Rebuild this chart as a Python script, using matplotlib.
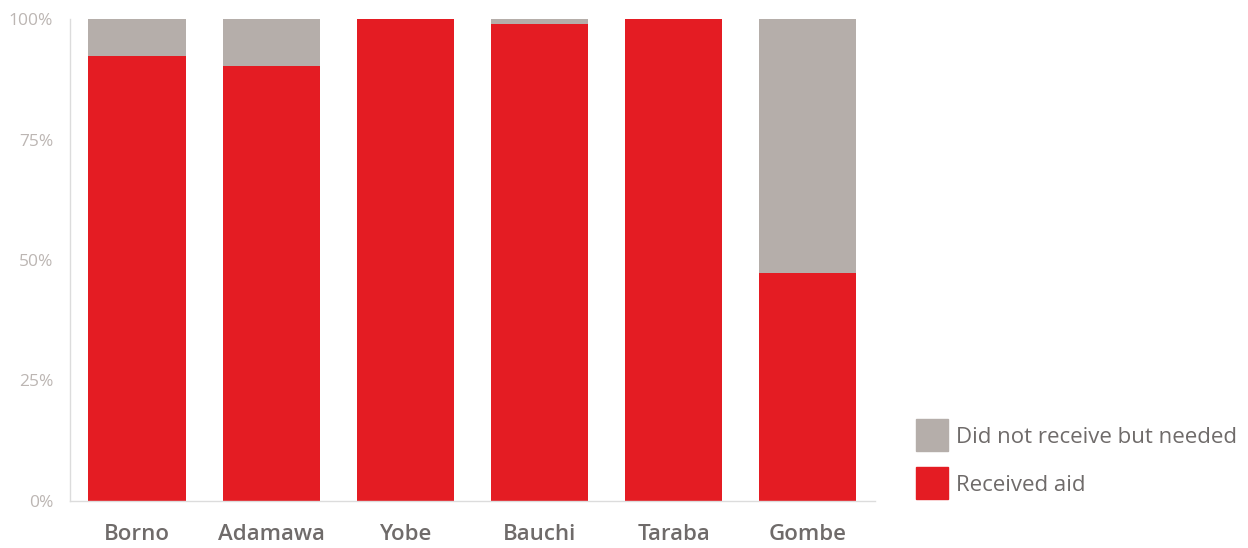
import matplotlib.pyplot as plt
from matplotlib.patches import Patch

states = ["Borno", "Adamawa", "Yobe", "Bauchi", "Taraba", "Gombe"]
received = [92.3, 90.2, 100.0, 99.0, 100.0, 47.3]
not_received = [100 - r for r in received]

red = "#e41c23"
grey = "#b5aeaa"
text_grey = "#6f6b6a"
tick_grey = "#bcb6b3"

plt.rcParams["font.family"] = ["Open Sans", "DejaVu Sans"]

fig = plt.figure(figsize=(12.48, 5.48), dpi=100)
ax = fig.add_axes([0.056, 0.086, 0.645, 0.879])

x = range(len(states))
ax.bar(x, received, width=0.724, color=red)
ax.bar(x, not_received, width=0.724, bottom=received, color=grey)

ax.set_xlim(-0.5, 5.5)
ax.set_ylim(0, 100)
ax.set_yticks([0, 25, 50, 75, 100])
ax.set_yticklabels(["0%", "25%", "50%", "75%", "100%"], color=tick_grey, fontsize=12.5)
ax.set_xticks(list(x))
ax.set_xticklabels(states, color=text_grey, fontsize=16, fontweight="semibold")
ax.tick_params(axis="both", length=0)
ax.tick_params(axis="y", pad=12)
ax.tick_params(axis="x", pad=17)

for side in ["top", "right"]:
    ax.spines[side].set_visible(False)
for side in ["left", "bottom"]:
    ax.spines[side].set_color("#dcdcdc")
    ax.spines[side].set_linewidth(1)

handles = [Patch(color=grey, label="Did not receive but needed"),
           Patch(color=red, label="Received aid")]
leg = fig.legend(handles=handles, loc="lower left", bbox_to_anchor=(0.727, 0.0724),
                 frameon=False, fontsize=16, handlelength=1.44, handleheight=1.84,
                 handletextpad=0.36, labelspacing=0.72, borderaxespad=0)
for t in leg.get_texts():
    t.set_color(text_grey)

fig.savefig("out.png", dpi=100, facecolor="white")
